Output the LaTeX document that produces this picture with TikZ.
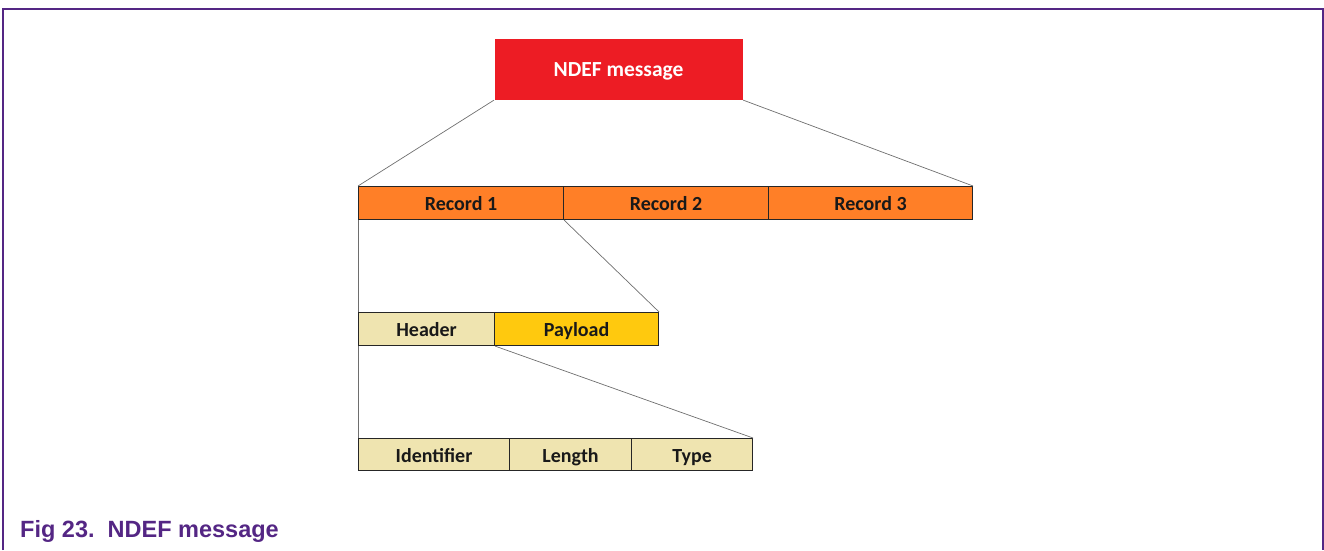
\documentclass[tikz,border=0pt]{standalone}
\usepackage{fontspec}
\setmainfont{Carlito}
\newfontfamily\capfont{Liberation Sans}
\definecolor{framepurple}{RGB}{84,38,132}
\definecolor{ndefred}{RGB}{237,28,36}
\definecolor{recorange}{RGB}{255,127,39}
\definecolor{hdrtan}{RGB}{239,228,176}
\definecolor{payyellow}{RGB}{255,201,14}
\definecolor{linkgray}{RGB}{110,110,110}
\begin{document}
\begin{tikzpicture}[x=1pt,y=-1pt,
  cell/.style={draw=black!85,line width=1.1pt,inner sep=0pt,anchor=north west,
    text height=15.5pt,text depth=0.5pt,
    font=\fontsize{20}{22}\selectfont\bfseries,text=black!90},
  link/.style={draw=linkgray,line width=0.7pt}]
  \useasboundingbox (0,0) rectangle (1324,550);
  % open frame round the figure
  \draw[framepurple,line width=2pt] (2.5,550) -- (2.5,8.5) -- (1322.5,8.5) -- (1322.5,550);

  % message
  \node[cell,draw=none,fill=ndefred,minimum width=248pt,minimum height=61pt,text=white,
        font=\fontsize{21.5}{24}\selectfont\bfseries] (msg) at (494,38) {NDEF message};

  % records
  \node[cell,fill=recorange,minimum width=205pt,minimum height=33pt] (r1) at (358,186) {Record 1};
  \node[cell,fill=recorange,minimum width=205pt,minimum height=33pt] (r2) at (563,186) {Record 2};
  \node[cell,fill=recorange,minimum width=204pt,minimum height=33pt] (r3) at (768,186) {Record 3};

  % record parts
  \node[cell,fill=hdrtan,minimum width=136pt,minimum height=33pt] (hdr) at (358,312) {Header};
  \node[cell,fill=payyellow,minimum width=164pt,minimum height=33pt] (pay) at (494,312) {Payload};

  % header fields
  \node[cell,fill=hdrtan,minimum width=151pt,minimum height=32pt] (idf) at (358,438) {Identifier};
  \node[cell,fill=hdrtan,minimum width=122pt,minimum height=32pt] (len) at (509,438) {Length};
  \node[cell,fill=hdrtan,minimum width=121pt,minimum height=32pt] (typ) at (631,438) {Type};

  % expansion lines
  \draw[link] (msg.south west) -- (r1.north west);
  \draw[link] (msg.south east) -- (r3.north east);
  \draw[link] (r1.south west) -- (hdr.north west);
  \draw[link] (r1.south east) -- (pay.north east);
  \draw[link] (hdr.south west) -- (idf.north west);
  \draw[link] (hdr.south east) -- (typ.north east);

  % caption
  \node[anchor=base west,inner sep=0pt,text=framepurple,
        font=\capfont\fontsize{23.5}{26}\selectfont\bfseries] (cap) at (20,537) {Fig 23.\ \ NDEF message};
\end{tikzpicture}
\end{document}
